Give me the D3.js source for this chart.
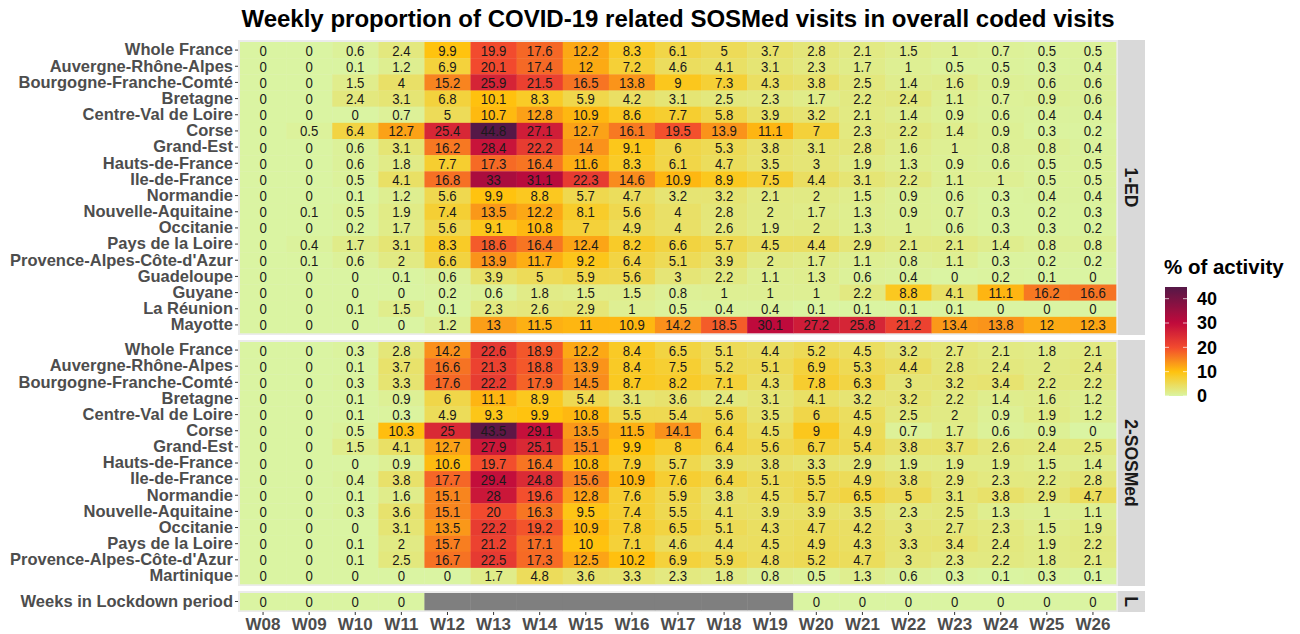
<!DOCTYPE html>
<html>
<head>
<meta charset="utf-8">
<script src="https://cdn.jsdelivr.net/npm/d3@7"></script>
<style>
  html, body { margin: 0; padding: 0; background: #fff; }
  svg { display: block; font-family: "Liberation Sans", Arial, sans-serif; }
</style>
</head>
<body>
<svg id="chart" width="1300" height="634"></svg>
<script>
const chartTitle = "Weekly proportion of COVID-19 related SOSMed visits in overall coded visits";
const weeks = ["W08","W09","W10","W11","W12","W13","W14","W15","W16","W17","W18","W19","W20","W21","W22","W23","W24","W25","W26"];

const edRegions = ["Whole France","Auvergne-Rhône-Alpes","Bourgogne-Franche-Comté","Bretagne","Centre-Val de Loire","Corse","Grand-Est","Hauts-de-France","Ile-de-France","Normandie","Nouvelle-Aquitaine","Occitanie","Pays de la Loire","Provence-Alpes-Côte-d'Azur","Guadeloupe","Guyane","La Réunion","Mayotte"];
const edValues = [
  [0,0,0.6,2.4,9.9,19.9,17.6,12.2,8.3,6.1,5,3.7,2.8,2.1,1.5,1,0.7,0.5,0.5],
  [0,0,0.1,1.2,6.9,20.1,17.4,12,7.2,4.6,4.1,3.1,2.3,1.7,1,0.5,0.5,0.3,0.4],
  [0,0,1.5,4,15.2,25.9,21.5,16.5,13.8,9,7.3,4.3,3.8,2.5,1.4,1.6,0.9,0.6,0.6],
  [0,0,2.4,3.1,6.8,10.1,8.3,5.9,4.2,3.1,2.5,2.3,1.7,2.2,2.4,1.1,0.7,0.9,0.6],
  [0,0,0,0.7,5,10.7,12.8,10.9,8.6,7.7,5.8,3.9,3.2,2.1,1.4,0.9,0.6,0.4,0.4],
  [0,0.5,6.4,12.7,25.4,44.8,27.1,12.7,16.1,19.5,13.9,11.1,7,2.3,2.2,1.4,0.9,0.3,0.2],
  [0,0,0.6,3.1,16.2,28.4,22.2,14,9.1,6,5.3,3.8,3.1,2.8,1.6,1,0.8,0.8,0.4],
  [0,0,0.6,1.8,7.7,17.3,16.4,11.6,8.3,6.1,4.7,3.5,3,1.9,1.3,0.9,0.6,0.5,0.5],
  [0,0,0.5,4.1,16.8,33,31.1,22.3,14.6,10.9,8.9,7.5,4.4,3.1,2.2,1.1,1,0.5,0.5],
  [0,0,0.1,1.2,5.6,9.9,8.8,5.7,4.7,3.2,3.2,2.1,2,1.5,0.9,0.6,0.3,0.4,0.4],
  [0,0.1,0.5,1.9,7.4,13.5,12.2,8.1,5.6,4,2.8,2,1.7,1.3,0.9,0.7,0.3,0.2,0.3],
  [0,0,0.2,1.7,5.6,9.1,10.8,7,4.9,4,2.6,1.9,2,1.3,1,0.6,0.3,0.3,0.2],
  [0,0.4,1.7,3.1,8.3,18.6,16.4,12.4,8.2,6.6,5.7,4.5,4.4,2.9,2.1,2.1,1.4,0.8,0.8],
  [0,0.1,0.6,2,6.6,13.9,11.7,9.2,6.4,5.1,3.9,2,1.7,1.1,0.8,1.1,0.3,0.2,0.2],
  [0,0,0,0.1,0.6,3.9,5,5.9,5.6,3,2.2,1.1,1.3,0.6,0.4,0,0.2,0.1,0],
  [0,0,0,0,0.2,0.6,1.8,1.5,1.5,0.8,1,1,1,2.2,8.8,4.1,11.1,16.2,16.6],
  [0,0,0.1,1.5,0.1,2.3,2.6,2.9,1,0.5,0.4,0.4,0.1,0.1,0.1,0.1,0,0,0],
  [0,0,0,0,1.2,13,11.5,11,10.9,14.2,18.5,30.1,27.2,25.8,21.2,13.4,13.8,12,12.3]
];

const sosRegions = ["Whole France","Auvergne-Rhône-Alpes","Bourgogne-Franche-Comté","Bretagne","Centre-Val de Loire","Corse","Grand-Est","Hauts-de-France","Ile-de-France","Normandie","Nouvelle-Aquitaine","Occitanie","Pays de la Loire","Provence-Alpes-Côte-d'Azur","Martinique"];
const sosValues = [
  [0,0,0.3,2.8,14.2,22.6,18.9,12.2,8.4,6.5,5.1,4.4,5.2,4.5,3.2,2.7,2.1,1.8,2.1],
  [0,0,0.1,3.7,16.6,21.3,18.8,13.9,8.4,7.5,5.2,5.1,6.9,5.3,4.4,2.8,2.4,2,2.4],
  [0,0,0.3,3.3,17.6,22.2,17.9,14.5,8.7,8.2,7.1,4.3,7.8,6.3,3,3.2,3.4,2.2,2.2],
  [0,0,0.1,0.9,6,11.1,8.9,5.4,3.1,3.6,2.4,3.1,4.1,3.2,3.2,2.2,1.4,1.6,1.2],
  [0,0,0.1,0.3,4.9,9.3,9.9,10.8,5.5,5.4,5.6,3.5,6,4.5,2.5,2,0.9,1.9,1.2],
  [0,0,0.5,10.3,25,43.5,29.1,13.5,11.5,14.1,6.4,4.5,9,4.9,0.7,1.7,0.6,0.9,0],
  [0,0,1.5,4.1,12.7,27.9,25.1,15.1,9.9,8,6.4,5.6,6.7,5.4,3.8,3.7,2.6,2.4,2.5],
  [0,0,0,0.9,10.6,19.7,16.4,10.8,7.9,5.7,3.9,3.8,3.3,2.9,1.9,1.9,1.9,1.5,1.4],
  [0,0,0.4,3.8,17.7,29.4,24.8,15.6,10.9,7.6,6.4,5.1,5.5,4.9,3.8,2.9,2.3,2.2,2.8],
  [0,0,0.1,1.6,15.1,28,19.6,12.8,7.6,5.9,3.8,4.5,5.7,6.5,5,3.1,3.8,2.9,4.7],
  [0,0,0.3,3.6,15.1,20,16.3,9.5,7.4,5.5,4.1,3.9,3.9,3.5,2.3,2.5,1.3,1,1.1],
  [0,0,0,3.1,13.5,22.2,19.2,10.9,7.8,6.5,5.1,4.3,4.7,4.2,3,2.7,2.3,1.5,1.9],
  [0,0,0.1,2,15.7,21.2,17.1,10,7.1,4.6,4.4,4.5,4.9,4.3,3.3,3.4,2.4,1.9,2.2],
  [0,0,0.1,2.5,16.7,22.5,17.3,12.5,10.2,6.9,5.9,4.8,5.2,4.7,3,2.3,2.2,1.8,2.1],
  [0,0,0,0,0,1.7,4.8,3.6,3.3,2.3,1.8,0.8,0.5,1.3,0.6,0.3,0.1,0.3,0.1]
];

const lockRegions = ["Weeks in Lockdown period"];
const lockValues = [[0,0,0,0,null,null,null,null,null,null,null,null,0,0,0,0,0,0,0]];

const facetLabels = ["1-ED","2-SOSMed","L"];
const legendTitle = "% of activity";
const legendTicks = [0,10,20,30,40];
const colorStops = [0,10,20,30,44.8];
const colorRange = ["#DAF4A2","#FFC20E","#F24A2E","#C00A3C","#551847"];

// ---------- drawing ----------
const svg = d3.select("#chart");
const FONT = "'Liberation Sans', Arial, sans-serif";
const panelL = 240, panelR = 1116;
const x = d3.scaleBand().domain(weeks).range([panelL, panelR]);
const color = d3.scaleLinear().domain(colorStops).range(colorRange).clamp(true);

const panels = [
  {regions: edRegions, values: edValues, top: 42, bottom: 333, label: facetLabels[0]},
  {regions: sosRegions, values: sosValues, top: 342, bottom: 584, label: facetLabels[1]},
  {regions: lockRegions, values: lockValues, top: 593, bottom: 610, label: facetLabels[2]}
];

svg.append("text")
  .attr("x", (panelL + panelR) / 2).attr("y", 27)
  .attr("text-anchor", "middle")
  .attr("font-size", 24).attr("font-weight", "bold").attr("fill", "#000")
  .text(chartTitle);

panels.forEach(p => {
  const y = d3.scaleBand().domain(p.regions).range([p.top, p.bottom]);
  const g = svg.append("g");
  g.append("rect").attr("x", panelL - 2).attr("y", p.top - 2)
    .attr("width", panelR - panelL + 4).attr("height", p.bottom - p.top + 4)
    .attr("fill", "#EBEBEB");
  const cells = [];
  p.regions.forEach((r, i) => weeks.forEach((w, j) => cells.push({r, w, v: p.values[i][j]})));
  g.selectAll("rect.cell").data(cells).join("rect")
    .attr("class", "cell")
    .attr("x", d => x(d.w)).attr("y", d => y(d.r))
    .attr("width", x.bandwidth() + 0.3).attr("height", y.bandwidth() + 0.3)
    .attr("fill", d => d.v === null ? "#7F7F7F" : color(d.v));
  g.selectAll("text.val").data(cells.filter(d => d.v !== null)).join("text")
    .attr("class", "val")
    .attr("transform", d => `translate(${x(d.w) + x.bandwidth() / 2},${y(d.r) + y.bandwidth() / 2}) scale(0.88,1)`)
    .attr("dy", "0.37em")
    .attr("text-anchor", "middle")
    .attr("font-size", 15).attr("fill", "#1A1A1A")
    .text(d => d3.format("")(d.v));
  const ax = g.append("g").attr("transform", `translate(${panelL - 2},0)`)
    .call(d3.axisLeft(y).tickSize(3).tickPadding(2));
  ax.select(".domain").remove();
  ax.selectAll(".tick line").attr("stroke", "#333").attr("stroke-width", 1);
  ax.selectAll(".tick text").attr("font-family", FONT).attr("font-size", 16.5)
    .attr("font-weight", "bold").attr("fill", "#4D4D4D");
  g.append("rect").attr("x", panelR + 2).attr("y", p.top - 2)
    .attr("width", 27).attr("height", p.bottom - p.top + 4).attr("fill", "#D9D9D9");
  g.append("text")
    .attr("transform", `translate(${panelR + 15.5},${(p.top + p.bottom) / 2}) rotate(90)`)
    .attr("text-anchor", "middle").attr("dy", "0.36em")
    .attr("font-size", 17.5).attr("font-weight", "bold").attr("fill", "#1A1A1A")
    .text(p.label);
});

const xa = svg.append("g").attr("transform", "translate(0,612)")
  .call(d3.axisBottom(x).tickSize(3).tickPadding(3));
xa.select(".domain").remove();
xa.selectAll(".tick line").attr("stroke", "#333");
xa.selectAll(".tick text").attr("font-family", FONT).attr("font-size", 17)
  .attr("font-weight", "bold").attr("fill", "#4D4D4D");

const lg = svg.append("g");
const barX = 1165, barW = 22, barTop = 287, barBottom = 396;
const ly = d3.scaleLinear().domain([0, 44.8]).range([barBottom, barTop]);
lg.append("text").attr("x", 1164).attr("y", 274)
  .attr("font-size", 20.5).attr("font-weight", "bold").attr("fill", "#000")
  .text(legendTitle);
const defs = svg.append("defs");
const grad = defs.append("linearGradient").attr("id", "lgGrad")
  .attr("x1", 0).attr("x2", 0).attr("y1", 1).attr("y2", 0);
d3.range(0, 1.0001, 0.02).forEach(t => {
  grad.append("stop").attr("offset", t).attr("stop-color", color(t * 44.8));
});
lg.append("rect").attr("x", barX).attr("y", barTop).attr("width", barW)
  .attr("height", barBottom - barTop).attr("fill", "url(#lgGrad)");
legendTicks.forEach(t => {
  lg.append("line").attr("x1", barX).attr("x2", barX + 4)
    .attr("y1", ly(t)).attr("y2", ly(t)).attr("stroke", "#fff").attr("stroke-opacity", 0.7);
  lg.append("line").attr("x1", barX + barW - 4).attr("x2", barX + barW)
    .attr("y1", ly(t)).attr("y2", ly(t)).attr("stroke", "#fff").attr("stroke-opacity", 0.7);
  lg.append("text").attr("x", 1197).attr("y", ly(t)).attr("dy", "0.36em")
    .attr("font-size", 18).attr("font-weight", "bold").attr("fill", "#000")
    .text(t);
});
</script>
</body>
</html>
